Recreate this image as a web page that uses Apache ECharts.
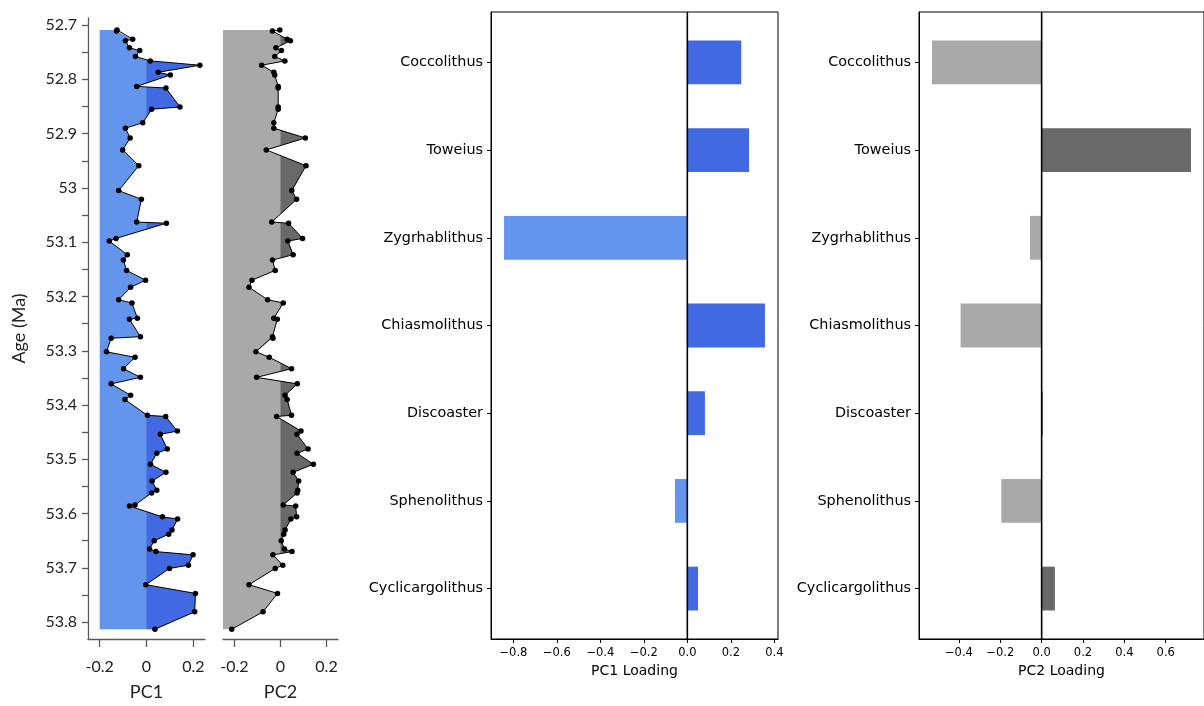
<!DOCTYPE html>
<html>
<head>
<meta charset="utf-8">
<script src="https://cdn.jsdelivr.net/npm/echarts@6/dist/echarts.min.js"></script>
<style>
  html, body { margin: 0; padding: 0; background: #ffffff; }
  #chart { width: 1204px; height: 706px; }
</style>
</head>
<body>
<div id="chart"></div>
<script>
// Sample ages (Ma) and principal component scores down the section
const ages = [
  52.709, 52.711, 52.726, 52.729, 52.742, 52.747, 52.758, 52.766, 52.774, 52.787,
  52.792, 52.813, 52.816, 52.851, 52.855, 52.880, 52.890, 52.908, 52.930, 52.959,
  53.005, 53.021, 53.063, 53.065, 53.093, 53.098, 53.123, 53.133, 53.152, 53.170,
  53.183, 53.206, 53.212, 53.240, 53.242, 53.274, 53.277, 53.302, 53.312, 53.333,
  53.349, 53.361, 53.382, 53.390, 53.419, 53.421, 53.448, 53.454, 53.481, 53.489,
  53.509, 53.524, 53.540, 53.557, 53.562, 53.584, 53.586, 53.606, 53.610, 53.630,
  53.638, 53.650, 53.665, 53.670, 53.676, 53.695, 53.701, 53.731, 53.747, 53.781,
  53.813
];
const pc1 = [
  -0.126, -0.128, -0.059, -0.090, -0.073, -0.029, -0.047, 0.016, 0.228, 0.050,
  0.102, -0.042, 0.083, 0.143, 0.022, -0.016, -0.090, -0.070, -0.102, -0.033,
  -0.119, -0.022, -0.042, 0.085, -0.130, -0.159, -0.082, -0.099, -0.085, -0.004,
  -0.068, -0.119, -0.062, -0.039, -0.073, -0.026, -0.151, -0.171, -0.049, -0.098,
  -0.026, -0.151, -0.068, -0.092, 0.004, 0.082, 0.132, 0.059, 0.089, 0.044,
  0.017, 0.083, 0.024, 0.044, 0.022, -0.049, -0.073, 0.068, 0.133, 0.109,
  0.095, 0.033, 0.013, 0.040, 0.199, 0.179, 0.098, -0.003, 0.209, 0.206,
  0.036
];
const pc2 = [
  -0.003, -0.035, 0.029, 0.043, -0.020, 0.004, -0.025, 0.019, -0.082, -0.029,
  -0.025, -0.010, -0.010, -0.010, -0.010, -0.029, -0.029, 0.108, -0.062, 0.111,
  0.049, 0.070, -0.038, 0.035, 0.096, 0.032, 0.055, -0.035, -0.023, -0.124,
  -0.137, -0.056, 0.012, -0.029, -0.014, -0.035, -0.033, -0.107, -0.049, 0.048,
  -0.104, 0.073, 0.020, 0.029, 0.048, -0.017, 0.089, 0.072, 0.120, 0.072,
  0.143, 0.055, 0.079, 0.075, 0.072, 0.012, 0.066, 0.070, 0.045, 0.020,
  0.014, 0.003, 0.017, 0.050, -0.033, 0.010, -0.023, -0.137, -0.013, -0.076,
  -0.212
];

// Taxon loadings on each component (listed top to bottom)
const taxa = ['Coccolithus', 'Toweius', 'Zygrhablithus', 'Chiasmolithus', 'Discoaster', 'Sphenolithus', 'Cyclicargolithus'];
const pc1Loadings = [0.248, 0.284, -0.843, 0.357, 0.081, -0.057, 0.049];
const pc2Loadings = [-0.530, 0.722, -0.056, -0.392, 0.006, -0.195, 0.064];

// Tick labels
const ageTicks = [52.7, 52.8, 52.9, 53.0, 53.1, 53.2, 53.3, 53.4, 53.5, 53.6, 53.7, 53.8];
const scoreTicks = [-0.2, 0, 0.2];
const pc1LoadingTicks = [-0.8, -0.6, -0.4, -0.2, 0.0, 0.2, 0.4];
const pc2LoadingTicks = [-0.4, -0.2, 0.0, 0.2, 0.4, 0.6];

// Half-step tick marks between the labelled ages
const ageTickMarks = [];
ageTicks.forEach((t, i) => {
  ageTickMarks.push(t);
  if (i < ageTicks.length - 1) ageTickMarks.push(Math.round((t + 0.05) * 1000) / 1000);
});

const COLORS = {
  pc1Light: '#6495ED', pc1Dark: '#4169E1',
  pc2Light: '#A9A9A9', pc2Dark: '#696969'
};
const PROFILE_FONT = 'Lato, "Open Sans", sans-serif';
const MPL_FONT = '"DejaVu Sans", sans-serif';
const AXIS_GREY = '#595959';

// Profile fill: pale area from a fixed left base to the curve,
// darker area between zero and the positive part of the curve.
function profileFill(values, base, light, dark) {
  return function (params, api) {
    const lightPts = [api.coord([base, ages[0]])];
    values.forEach((v, i) => lightPts.push(api.coord([v, ages[i]])));
    lightPts.push(api.coord([base, ages[ages.length - 1]]));

    const darkPts = [api.coord([0, ages[0]])];
    for (let i = 0; i < values.length; i++) {
      const v = values[i];
      darkPts.push(api.coord([Math.max(v, 0), ages[i]]));
      if (i < values.length - 1) {
        const w = values[i + 1];
        if ((v > 0 && w < 0) || (v < 0 && w > 0)) {
          const t = v / (v - w);
          darkPts.push(api.coord([0, ages[i] + (ages[i + 1] - ages[i]) * t]));
        }
      }
    }
    darkPts.push(api.coord([0, ages[ages.length - 1]]));

    return {
      type: 'group',
      children: [
        { type: 'polygon', shape: { points: lightPts }, style: { fill: light } },
        { type: 'polygon', shape: { points: darkPts }, style: { fill: dark } }
      ]
    };
  };
}

// Horizontal loading bars drawn on a numeric taxon axis
function loadingBars(pos, neg) {
  return function (params, api) {
    const v = api.value(0), y = api.value(1);
    const p0 = api.coord([0, y]);
    const p1 = api.coord([v, y]);
    const h = api.size([0, 0.5])[1];
    return {
      type: 'rect',
      shape: { x: Math.min(p0[0], p1[0]), y: p0[1] - h / 2, width: Math.abs(p1[0] - p0[0]), height: h },
      style: { fill: v >= 0 ? pos : neg }
    };
  };
}

const nTaxa = taxa.length;
const taxonPos = taxa.map((t, i) => nTaxa - 1 - i);
const taxonMin = -0.575, taxonMax = nTaxa - 1 + 0.575;

function scoreXAxis(gridIndex, name) {
  return {
    gridIndex, type: 'value', min: -0.25, max: 0.25,
    axisLine: { show: true, onZero: false, lineStyle: { color: AXIS_GREY, width: 1.3 } },
    axisTick: { show: true, customValues: scoreTicks, length: 8, lineStyle: { color: AXIS_GREY, width: 1.3 } },
    axisLabel: {
      customValues: scoreTicks, margin: 20, color: '#222',
      fontFamily: PROFILE_FONT, fontSize: 16,
      formatter: v => (Math.abs(v) < 1e-9 ? '0' : v.toFixed(1))
    },
    splitLine: { show: false },
    name, nameLocation: 'middle', nameGap: 44,
    nameTextStyle: { fontFamily: PROFILE_FONT, fontSize: 18, color: '#222' }
  };
}

function loadingXAxis(gridIndex, min, max, ticks, name) {
  return {
    gridIndex, type: 'value', min, max,
    axisLine: { show: true, onZero: false, lineStyle: { color: '#000', width: 1 } },
    axisTick: { show: true, customValues: ticks, length: 4, lineStyle: { color: '#000' } },
    axisLabel: {
      customValues: ticks, margin: 8, color: '#000',
      fontFamily: MPL_FONT, fontSize: 11.5,
      formatter: v => v.toFixed(1).replace('-', '\u2212')
    },
    splitLine: { show: false },
    name, nameLocation: 'middle', nameGap: 24,
    nameTextStyle: { fontFamily: MPL_FONT, fontSize: 14, color: '#000' }
  };
}

function taxonYAxis(gridIndex) {
  return {
    gridIndex, type: 'value', min: taxonMin, max: taxonMax,
    axisLine: { show: true, onZero: false, lineStyle: { color: '#000', width: 1 } },
    axisTick: { show: true, customValues: taxonPos, length: 4, lineStyle: { color: '#000' } },
    axisLabel: {
      customValues: taxonPos, margin: 8, color: '#000',
      fontFamily: MPL_FONT, fontSize: 14.4,
      formatter: v => taxa[nTaxa - 1 - Math.round(v)]
    },
    splitLine: { show: false }
  };
}

const ageMin = 52.687, ageMax = 53.831;

const option = {
  animation: false,
  backgroundColor: '#ffffff',
  grid: [
    { left: 88, top: 18, width: 117, height: 622 },
    { left: 223, top: 18, width: 115, height: 622 },
    { left: 491, top: 12, width: 287, height: 627, show: true, borderColor: '#000', borderWidth: 1, backgroundColor: 'transparent' },
    { left: 919, top: 12, width: 287, height: 627, show: true, borderColor: '#000', borderWidth: 1, backgroundColor: 'transparent' }
  ],
  xAxis: [
    scoreXAxis(0, 'PC1'),
    scoreXAxis(1, 'PC2'),
    loadingXAxis(2, -0.903, 0.417, pc1LoadingTicks, 'PC1 Loading'),
    loadingXAxis(3, -0.593, 0.785, pc2LoadingTicks, 'PC2 Loading')
  ],
  yAxis: [
    {
      gridIndex: 0, type: 'value', inverse: true, min: ageMin, max: ageMax,
      axisLine: { show: true, onZero: false, lineStyle: { color: AXIS_GREY, width: 1.3 } },
      axisTick: { show: true, customValues: ageTickMarks, length: 6, lineStyle: { color: AXIS_GREY, width: 1.3 } },
      axisLabel: {
        customValues: ageTicks, margin: 11, color: '#222',
        fontFamily: PROFILE_FONT, fontSize: 16,
        formatter: v => String(Math.round(v * 10) / 10)
      },
      splitLine: { show: false },
      name: 'Age (Ma)', nameLocation: 'middle', nameGap: 60, nameRotate: 90,
      nameTextStyle: { fontFamily: PROFILE_FONT, fontSize: 18, color: '#222' }
    },
    { gridIndex: 1, type: 'value', inverse: true, min: ageMin, max: ageMax, show: false },
    taxonYAxis(2),
    taxonYAxis(3)
  ],
  series: [
    {
      type: 'custom', xAxisIndex: 0, yAxisIndex: 0, clip: false, silent: true,
      renderItem: profileFill(pc1, -0.2, COLORS.pc1Light, COLORS.pc1Dark),
      data: [[0, ages[0]]], z: 1
    },
    {
      type: 'line', xAxisIndex: 0, yAxisIndex: 0,
      data: ages.map((a, i) => [pc1[i], a]),
      symbol: 'circle', symbolSize: 5.5, showSymbol: true,
      itemStyle: { color: '#000' }, lineStyle: { color: '#000', width: 1 }, z: 3
    },
    {
      type: 'custom', xAxisIndex: 1, yAxisIndex: 1, clip: false, silent: true,
      renderItem: profileFill(pc2, -0.25, COLORS.pc2Light, COLORS.pc2Dark),
      data: [[0, ages[0]]], z: 1
    },
    {
      type: 'line', xAxisIndex: 1, yAxisIndex: 1,
      data: ages.map((a, i) => [pc2[i], a]),
      symbol: 'circle', symbolSize: 5.5, showSymbol: true,
      itemStyle: { color: '#000' }, lineStyle: { color: '#000', width: 1 }, z: 3
    },
    {
      type: 'custom', xAxisIndex: 2, yAxisIndex: 2,
      renderItem: loadingBars(COLORS.pc1Dark, COLORS.pc1Light),
      data: pc1Loadings.map((v, i) => [v, taxonPos[i]]), z: 1
    },
    {
      type: 'line', xAxisIndex: 2, yAxisIndex: 2, symbol: 'none',
      data: [[0, taxonMin], [0, taxonMax]],
      lineStyle: { color: '#000', width: 1.6 }, z: 3
    },
    {
      type: 'custom', xAxisIndex: 3, yAxisIndex: 3,
      renderItem: loadingBars(COLORS.pc2Dark, COLORS.pc2Light),
      data: pc2Loadings.map((v, i) => [v, taxonPos[i]]), z: 1
    },
    {
      type: 'line', xAxisIndex: 3, yAxisIndex: 3, symbol: 'none',
      data: [[0, taxonMin], [0, taxonMax]],
      lineStyle: { color: '#000', width: 1.6 }, z: 3
    }
  ]
};

const chart = echarts.init(document.getElementById('chart'), null, { renderer: 'canvas' });
chart.setOption(option);
</script>
</body>
</html>
